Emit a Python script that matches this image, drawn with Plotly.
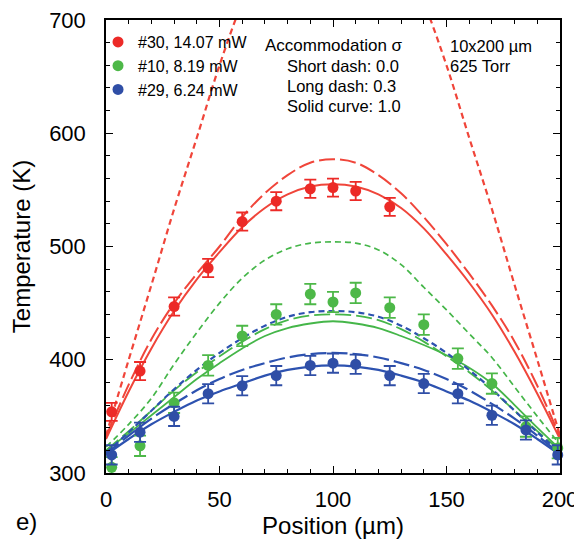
import plotly.graph_objects as go

# ---------------- data ----------------
curve_x = [0, 10, 20, 30, 40, 50, 60, 70, 80, 90, 100,
           110, 120, 130, 140, 150, 160, 170, 180, 190, 200]

# red (#30) model curves
red_short = [333, 400, 466, 533, 596, 660, 716, 764, 798, 817, 823,
             817, 798, 764, 716, 660, 596, 533, 466, 400, 333]
red_long = [332, 378, 418, 450, 476, 500, 526, 547, 563, 574, 577,
            574, 563, 547, 526, 502, 476, 448, 416, 377, 332]
red_solid = [330, 372, 410, 443, 471, 495, 517, 534, 546, 553, 555,
             553, 546, 534, 516, 493, 468, 440, 407, 370, 330]

# green (#10) model curves
green_short = [323, 343, 366, 396, 424, 450, 472, 488, 498, 503, 504,
               503, 497, 484, 464, 444, 423, 402, 376, 350, 325]
green_long = [320, 337, 355, 373, 389, 403, 416, 427, 435, 439, 440,
              439, 435, 427, 416, 403, 389, 373, 355, 337, 320]
green_solid = [320, 335, 351, 367, 383, 397, 410, 421, 428, 432, 434,
               432, 428, 421, 413, 404, 393, 379, 360, 340, 321]

# blue (#29) model curves
blue_short = [318, 336, 355, 374, 391, 406, 419, 430, 438, 442, 443,
              442, 438, 430, 419, 406, 391, 374, 355, 336, 318]
blue_long = [317, 333, 348, 361, 373, 383, 391, 397, 402, 405, 406,
             405, 402, 397, 391, 383, 373, 361, 348, 333, 317]
blue_solid = [316, 330, 343, 354, 364, 372, 379, 386, 391, 394, 395,
              394, 391, 386, 380, 372, 364, 354, 343, 330, 316]

# measured points
red_x = [2.5, 15, 30, 45, 60, 75, 90, 100, 110, 125]
red_y = [354, 390, 447, 481, 522, 540, 551, 552, 549, 535]
red_err = [8, 8, 8, 8, 8, 8, 8, 8, 8, 8]

pts_x = [2.5, 15, 30, 45, 60, 75, 90, 100, 110, 125, 140, 155, 170, 185, 199]
green_y = [305, 324, 362, 395, 421, 440, 458, 451, 459, 446, 431, 401, 379, 341, 322]
green_err = [9] * 15
blue_y = [316, 336, 350, 370, 377, 386, 395, 397, 396, 386, 379, 370, 351, 338, 316]
blue_err = [8.5] * 15

labels = ["#30, 14.07 mW", "#10, 8.19 mW", "#29, 6.24 mW"]

# ---------------- style ----------------
RED_L = "#f0453a"
RED_M = "#ec2a27"
GREEN_L = "#45b649"
GREEN_M = "#4db848"
BLUE_L = "#2d52b0"
BLUE_M = "#2f4ea6"
SHORT = "6px,4px"
LONG = "16px,5px"
FONT = "Liberation Sans, Arial, Helvetica, sans-serif"

# the page body adds an 8 px offset; the figure is sized so the plot area
# lands at x 106..560, y 20..473 of the 582x542 window
OFF = 8
W, H = 582 - OFF, 542 - OFF
ML, MT = 106 - OFF, 20 - OFF
MR = W - (560 - OFF)
MB = H - (473 - OFF)

fig = go.Figure()

def add_curve(y, color, dash, width=2.0):
    fig.add_trace(go.Scatter(
        x=curve_x, y=y, mode="lines",
        line=dict(color=color, width=width, dash=dash, shape="spline"),
        showlegend=False, hoverinfo="skip"))

add_curve(green_short, GREEN_L, SHORT, 1.7)
add_curve(green_long, GREEN_L, LONG, 1.8)
add_curve(green_solid, GREEN_L, "solid", 1.8)
add_curve(red_short, RED_L, SHORT, 2.2)
add_curve(red_long, RED_L, LONG, 2.0)
add_curve(red_solid, RED_L, "solid", 2.0)
add_curve(blue_short, BLUE_L, SHORT, 2.2)
add_curve(blue_long, BLUE_L, LONG, 2.2)
add_curve(blue_solid, BLUE_L, "solid", 2.2)

def add_points(x, y, err, color, name):
    fig.add_trace(go.Scatter(
        x=x, y=y, mode="markers", name=name,
        marker=dict(color=color, size=11),
        error_y=dict(type="data", array=err, visible=True,
                     color=color, thickness=1.8, width=6),
        cliponaxis=False))

add_points(red_x, red_y, red_err, RED_M, labels[0])
add_points(pts_x, green_y, green_err, GREEN_M, labels[1])
add_points(pts_x, blue_y, blue_err, BLUE_M, labels[2])

axis_common = dict(
    showline=True, linecolor="black", linewidth=1.5, mirror="ticks",
    ticks="inside", ticklen=7, tickwidth=1.3, tickcolor="black",
    showgrid=False, zeroline=False, automargin=False,
    ticklabeloverflow="allow",
    tickfont=dict(family=FONT, size=22, color="black"),
)

fig.update_layout(
    width=W, height=H,
    margin=dict(l=ML, r=MR, t=MT, b=MB, autoexpand=False),
    paper_bgcolor="white", plot_bgcolor="white",
    font=dict(family=FONT, color="black"),
    xaxis=dict(
        range=[0, 200], dtick=50, tick0=0,
        minor=dict(dtick=10, ticks="inside", ticklen=4, tickcolor="black", tickwidth=1.2),
        ticklabelstandoff=6,
        title=dict(text="Position (µm)", font=dict(family=FONT, size=24), standoff=4),
        **axis_common),
    yaxis=dict(
        range=[300, 700], dtick=100, tick0=300,
        minor=dict(dtick=20, ticks="inside", ticklen=4, tickcolor="black", tickwidth=1.2),
        ticklabelstandoff=14,
        title=dict(text="Temperature (K)", font=dict(family=FONT, size=24), standoff=16),
        **axis_common),
    legend=dict(
        x=-0.0176, y=0.989, xanchor="left", yanchor="top",
        bgcolor="rgba(0,0,0,0)", borderwidth=0,
        font=dict(family=FONT, size=16, color="black"),
        itemwidth=30, tracegroupgap=0),
    showlegend=True,
)

def px_x(px):
    return (px - 106) / 454.0

def px_y(py):
    return (473 - py) / 453.0

ann = [
    ("Short dash: 0.0", 285, 66),
    ("Long dash: 0.3", 285, 86),
    ("Solid curve: 1.0", 285, 106),
    ("10x200 µm", 448, 46),
    ("625 Torr", 448, 66),
]
for text, x0, y0 in ann:
    fig.add_annotation(text=text, x=px_x(x0), y=px_y(y0), xref="paper", yref="paper",
                       xanchor="left", yanchor="middle", showarrow=False,
                       font=dict(family=FONT, size=16.5, color="black"))

fig.add_annotation(text="Accommodation σ", x=px_x(333.5), y=px_y(46), xref="paper", yref="paper",
                   xanchor="center", yanchor="middle", showarrow=False,
                   font=dict(family=FONT, size=17, color="black"))

fig.add_annotation(text="e)", x=px_x(14), y=px_y(521), xref="paper", yref="paper",
                   xanchor="left", yanchor="middle", showarrow=False,
                   font=dict(family=FONT, size=24, color="black"))

fig.write_html("out.html")
